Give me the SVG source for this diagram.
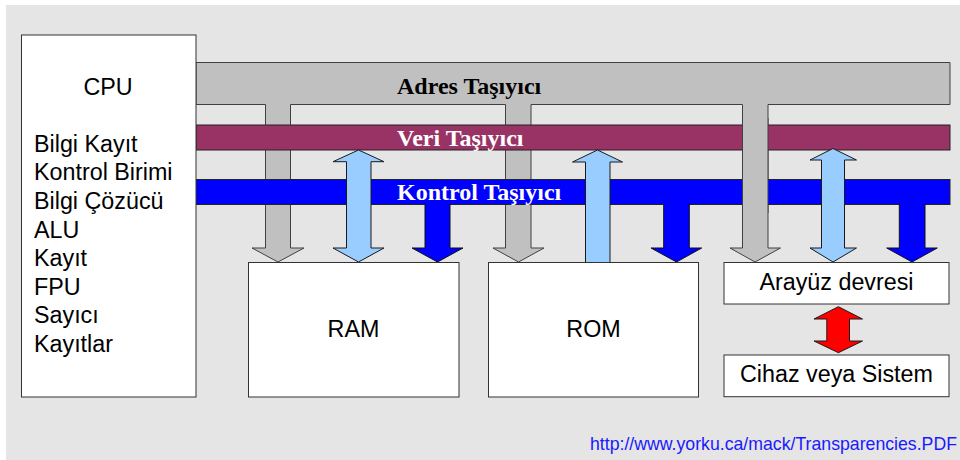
<svg xmlns="http://www.w3.org/2000/svg" width="960" height="460" viewBox="0 0 960 460">
<style>
.box{fill:#ffffff;stroke:#333333;stroke-width:1}
.sans{font-family:"Liberation Sans",Arial,sans-serif;font-size:23.3px;fill:#000000}
.bus{font-family:"Liberation Serif","Times New Roman",serif;font-size:24px;font-weight:bold}
.grey{fill:#c0c0c0;stroke:#404040;stroke-width:1}
.lb{fill:#99ccff;stroke:#1a1a1a;stroke-width:1}
.bl{fill:#0000ff;stroke:#111111;stroke-width:1}
</style>
<rect x="6" y="5" width="954" height="455" fill="#e5e5e5"/>
<g id="connectors">
<g id="adres-bus">
<path class="grey" d="M196,62.5 H950 V104.5 H768 V248 H780.5 L755,262 L730,248 H742.5 V104.5 H531 V248 H544 L518.5,262 L493,248 H505.5 V104.5 H290.5 V248 H304 L278,262 L252,248 H265.5 V104.5 H196 Z"/>
</g>
<g id="veri-bus">
<rect x="196" y="125" width="754" height="25" fill="#993366" stroke="#222222" stroke-width="1"/>
</g>
<g id="kontrol-bus">
<rect x="196" y="179.5" width="754" height="25" fill="#0000ff" stroke="#222222" stroke-width="1"/>
</g>
<g id="adres-drop3">
<rect x="742.5" y="118" width="25.5" height="95" fill="#c0c0c0"/>
<path d="M742.5,118 V213 M768,118 V213" stroke="#404040" stroke-width="1" fill="none"/>
</g>
<path class="lb" d="M358.5,150 L384,161.7 H371 V248 H384 L358.5,262 L333,248 H346.5 V161.7 H333 Z"/>
<path class="lb" d="M597.5,150 L622.5,162 H610 V263 H585.5 V162 H572.5 Z"/>
<path class="lb" d="M833,148.5 L856.5,160 H844.5 V248 H856.5 L833,262 L810,248 H821.5 V160 H810 Z"/>
<path class="bl" d="M425,203.5 V248 H412 L437.5,262 L463,248 H450 V203.5"/>
<path class="bl" d="M663.7,203.5 V248 H651 L676.5,262 L701.7,248 H689.3 V203.5"/>
<path class="bl" d="M899.3,203.5 V248 H886.7 L912,262 L937.3,248 H925 V203.5"/>
<path d="M838.4,306.7 L862.5,319 H849.5 V341 H862.5 L838.4,352.7 L814,341 H826.8 V319 H814 Z" fill="#ff0000" stroke="#1a1a1a" stroke-width="1"/>
</g>
<text class="bus" x="397" y="94" fill="#000000">Adres Taşıyıcı</text>
<text class="bus" x="397" y="145.5" fill="#ffffff">Veri Taşıyıcı</text>
<text class="bus" x="397" y="200" fill="#ffffff">Kontrol Taşıyıcı</text>
<g id="cpu">
<rect class="box" x="21.5" y="35" width="174.5" height="362"/>
<text class="sans" x="108" y="95" text-anchor="middle">CPU</text>
<text class="sans" x="34" y="151.7">Bilgi Kayıt</text>
<text class="sans" x="34" y="180.3">Kontrol Birimi</text>
<text class="sans" x="34" y="209">Bilgi Çözücü</text>
<text class="sans" x="34" y="237.6">ALU</text>
<text class="sans" x="34" y="266.2">Kayıt</text>
<text class="sans" x="34" y="294.8">FPU</text>
<text class="sans" x="34" y="323.4">Sayıcı</text>
<text class="sans" x="34" y="352">Kayıtlar</text>
</g>
<g id="ram">
<rect class="box" x="248.5" y="262.5" width="210.5" height="134.5"/>
<text class="sans" x="353.5" y="336.7" text-anchor="middle">RAM</text>
</g>
<g id="rom">
<rect class="box" x="488.5" y="262.5" width="210" height="134.5"/>
<text class="sans" x="593.5" y="336.7" text-anchor="middle">ROM</text>
</g>
<g id="arayuz">
<rect class="box" x="724" y="262.5" width="225" height="41.5"/>
<text class="sans" x="836.5" y="290" text-anchor="middle">Arayüz devresi</text>
</g>
<g id="cihaz">
<rect class="box" x="724" y="355" width="225" height="41.7"/>
<text class="sans" x="836.5" y="382.3" text-anchor="middle">Cihaz veya Sistem</text>
</g>
<text x="590" y="450" font-family="Liberation Sans, Arial, sans-serif" font-size="17.7" fill="#1a1aff">http://www.yorku.ca/mack/Transparencies.PDF</text>
</svg>
